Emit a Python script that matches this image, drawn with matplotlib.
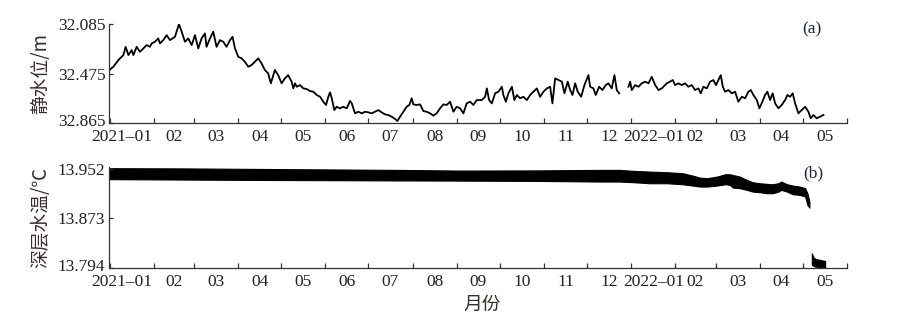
import datetime as dt
import matplotlib
matplotlib.use("Agg")
import matplotlib.pyplot as plt
import matplotlib.dates as mdates
import matplotlib.transforms as mtransforms
from matplotlib.ticker import FixedLocator, NullFormatter, FixedFormatter

# ---------------- data ----------------
# static water level (m), segment before the December gap (days since 2021-01-01)
wl_days_a = [0, 2.7, 6.2, 8.5, 9.7, 11.3, 13.2, 15.5, 16.7, 19.0, 21.3, 23.7, 26.0, 28.3, 29.5,
             31.8, 34.1, 35.3, 37.6, 40.0, 42.3, 45.8, 48.6, 50.5, 52.8, 55.1, 57.5, 59.8, 62.1,
             64.4, 66.8, 67.9, 70.3, 72.6, 74.9, 77.3, 79.6, 81.9, 84.3, 86.1, 87.8, 90.1, 92.4,
             94.7, 97.1, 99.4, 101.7, 104.1, 106.4, 108.7, 111.0, 112.9, 115.7, 118.0, 120.4,
             122.7, 125.0, 127.4, 128.6, 129.8, 131.0, 133.3, 135.6, 138.0, 140.3, 142.6, 145.0,
             147.3, 149.6, 151.5, 153.1, 154.3, 155.5, 157.3, 158.9, 161.3, 163.6, 166.0, 168.3,
             169.5, 171.8, 174.1, 176.5, 178.8, 181.1, 183.5, 185.8, 188.1, 190.4, 192.8, 195.1,
             197.4, 199.8, 201.4, 203.3, 205.6, 207.9, 209.8, 211.4, 212.6, 214.9, 217.3, 219.6,
             221.9, 224.3, 226.6, 228.9, 231.3, 233.6, 235.9, 238.3, 240.6, 242.9, 245.3, 247.6,
             249.9, 252.3, 254.6, 256.9, 260.5, 262.8, 264.0, 265.6, 267.5, 269.8, 272.1, 274.5,
             275.6, 277.3, 279.1, 281.5, 283.3, 285.0, 287.3, 289.6, 292.0, 294.3, 296.6, 299.0,
             301.3, 303.6, 306.0, 308.3, 309.9, 311.8, 314.1, 316.5, 318.3, 320.6, 322.3, 323.9,
             325.8, 327.6, 330.0, 332.3, 335.1, 336.3, 338.6, 340.2, 342.6, 344.9, 347.2, 349.1,
             351.4, 353.3, 354.9, 356.6]
wl_vals_a = [32.447, 32.421, 32.369, 32.343, 32.329, 32.264, 32.329, 32.290, 32.329, 32.264,
             32.303, 32.277, 32.250, 32.264, 32.237, 32.224, 32.198, 32.237, 32.211, 32.172,
             32.211, 32.185, 32.085, 32.145, 32.224, 32.198, 32.250, 32.172, 32.277, 32.198,
             32.158, 32.264, 32.198, 32.145, 32.264, 32.211, 32.224, 32.264, 32.211, 32.185,
             32.277, 32.343, 32.355, 32.382, 32.421, 32.408, 32.382, 32.355, 32.395, 32.447,
             32.473, 32.552, 32.447, 32.487, 32.552, 32.513, 32.487, 32.539, 32.592, 32.552,
             32.579, 32.566, 32.592, 32.597, 32.613, 32.618, 32.644, 32.658, 32.697, 32.723,
             32.658, 32.623, 32.670, 32.763, 32.737, 32.749, 32.737, 32.749, 32.691, 32.710,
             32.789, 32.776, 32.789, 32.776, 32.781, 32.789, 32.776, 32.763, 32.781, 32.797,
             32.802, 32.815, 32.833, 32.849, 32.815, 32.776, 32.737, 32.723, 32.670, 32.718,
             32.723, 32.718, 32.771, 32.776, 32.789, 32.807, 32.789, 32.749, 32.718, 32.723,
             32.697, 32.776, 32.737, 32.749, 32.789, 32.710, 32.697, 32.723, 32.684, 32.684,
             32.658, 32.592, 32.684, 32.710, 32.631, 32.618, 32.579, 32.644, 32.697, 32.631,
             32.579, 32.684, 32.644, 32.670, 32.658, 32.684, 32.644, 32.618, 32.592, 32.658,
             32.618, 32.592, 32.579, 32.710, 32.513, 32.526, 32.539, 32.631, 32.539, 32.605,
             32.644, 32.552, 32.618, 32.658, 32.566, 32.487, 32.579, 32.592, 32.644, 32.579,
             32.605, 32.566, 32.552, 32.592, 32.487, 32.605, 32.631]

# static water level (m), segment after the gap
wl_days_b = [363.1, 364.3, 365.4, 367.8, 370.1, 372.4, 374.8, 377.1, 379.4, 381.8, 384.1, 386.4,
             389.9, 392.2, 394.1, 395.7, 398.0, 400.4, 402.7, 405.0, 407.4, 409.7, 412.0, 413.7,
             415.5, 417.9, 420.2, 422.5, 424.4, 426.0, 427.7, 429.1, 430.7, 433.0, 435.4, 437.7,
             440.0, 442.4, 444.7, 447.0, 448.7, 450.5, 452.9, 454.7, 456.3, 458.7, 460.3, 462.2,
             464.0, 465.7, 468.0, 470.3, 472.7, 474.3, 476.2, 478.0, 479.7, 482.0, 484.3, 486.7,
             489.0, 490.6, 492.5, 494.8, 497.2, 499.5]
wl_vals_b = [32.579, 32.539, 32.605, 32.566, 32.579, 32.552, 32.539, 32.552, 32.500, 32.566,
             32.605, 32.592, 32.552, 32.539, 32.526, 32.566, 32.552, 32.566, 32.552, 32.579,
             32.566, 32.605, 32.592, 32.631, 32.579, 32.592, 32.539, 32.526, 32.566, 32.526,
             32.487, 32.579, 32.618, 32.605, 32.631, 32.618, 32.697, 32.658, 32.670, 32.618,
             32.605, 32.644, 32.684, 32.749, 32.710, 32.644, 32.618, 32.684, 32.631, 32.710,
             32.749, 32.723, 32.684, 32.644, 32.658, 32.631, 32.710, 32.789, 32.763, 32.737,
             32.776, 32.828, 32.802, 32.828, 32.815, 32.802]

# deep water temperature (deg C): envelope of the dense record
t_days_a = [0, 50, 100, 150, 200, 245, 300, 343, 357, 367, 378, 390, 401, 408, 413, 418, 425,
            431, 434, 436, 441, 446, 450, 455, 460, 464, 468, 470, 474, 478, 483, 486.7, 488.3,
            489.7]
t_hi_a = [13.9531, 13.9528, 13.9520, 13.9512, 13.9504, 13.9493, 13.9496, 13.9504, 13.9504,
          13.9488, 13.9477, 13.9467, 13.9451, 13.9413, 13.9381, 13.9371, 13.9397, 13.9435,
          13.9435, 13.9424, 13.9397, 13.9344, 13.9307, 13.9291, 13.9281, 13.9275, 13.9291,
          13.9318, 13.9275, 13.9254, 13.9238, 13.9212, 13.9132, 13.8998]
t_lo_a = [13.9356, 13.9350, 13.9344, 13.9340, 13.9336, 13.9333, 13.9328, 13.9318, 13.9318,
          13.9307, 13.9291, 13.9291, 13.9275, 13.9254, 13.9238, 13.9238, 13.9254, 13.9275,
          13.9265, 13.9222, 13.9212, 13.9185, 13.9158, 13.9148, 13.9132, 13.9132, 13.9158,
          13.9185, 13.9158, 13.9116, 13.9105, 13.9079, 13.8945, 13.8903]
t_days_b = [491.4, 492.5, 494.0, 497.0, 500.7]
t_hi_b = [13.8174, 13.8110, 13.8084, 13.8070, 13.8052]
t_lo_b = [13.7990, 13.7975, 13.7961, 13.7955, 13.7945]

month_labels = ["2021\u201301", "02", "03", "04", "05", "06", "07", "08", "09", "10", "11", "12",
                "2022\u201301", "02", "03", "04", "05"]
wl_ticks = [32.085, 32.475, 32.865]
t_ticks = [13.794, 13.873, 13.952]

# ---------------- helpers ----------------
def to_dates(days):
    return [mdates.date2num(dt.datetime(2021, 1, 1) + dt.timedelta(days=d)) for d in days]

month_starts = []
y, m = 2021, 1
for _ in range(18):
    month_starts.append(mdates.date2num(dt.datetime(y, m, 1)))
    m += 1
    if m > 12:
        m, y = 1, y + 1
label_pos = [month_starts[i] + (month_starts[i + 1] - month_starts[i]) / 2 for i in range(17)]
label_pos[0] -= 7  # first label sits slightly left in the original

serif = "Liberation Serif"
cjk = ["Noto Sans CJK SC", "DejaVu Sans"]
tick_color = "#222222"
label_color = "#3a2c2c"
fs = 12.5

fig = plt.figure(figsize=(9.2, 3.15), dpi=100)
W, H = 920.0, 315.0
x0, x1 = 109.5, 847.0
ax1 = fig.add_axes([x0 / W, 1 - 123 / H, (x1 - x0) / W, (123 - 23.5) / H])
ax2 = fig.add_axes([x0 / W, 1 - 268 / H, (x1 - x0) / W, (268 - 167.0) / H])

ax1.plot(to_dates(wl_days_a), wl_vals_a, color="black", lw=1.3)
ax1.plot(to_dates(wl_days_b), wl_vals_b, color="black", lw=1.3)
ax1.set_ylim(32.865, 32.08)

ax2.fill_between(to_dates(t_days_a), t_lo_a, t_hi_a, color="black", lw=0.8, edgecolor="black")
ax2.fill_between(to_dates(t_days_b), t_lo_b, t_hi_b, color="black", lw=0.8, edgecolor="black")
ax2.set_ylim(13.794, 13.955)

up_shift = mtransforms.ScaledTranslation(0, 3 / 100.0, fig.dpi_scale_trans)

for ax, yt, ylab in [(ax1, wl_ticks, "静水位/m"), (ax2, t_ticks, "深层水温/℃")]:
    ax.set_xlim(month_starts[0], month_starts[17])
    ax.xaxis.set_major_locator(FixedLocator(month_starts))
    ax.xaxis.set_major_formatter(NullFormatter())
    ax.xaxis.set_minor_locator(FixedLocator(label_pos))
    ax.xaxis.set_minor_formatter(FixedFormatter(month_labels))
    ax.tick_params(axis="x", which="major", direction="in", length=3.5, width=0.9,
                   color="#333333")
    ax.tick_params(axis="x", which="minor", length=0, pad=4.5, labelsize=fs,
                   labelcolor=tick_color)
    ax.set_yticks(yt)
    ax.set_yticklabels([f"{v:.3f}" for v in yt])
    ax.tick_params(axis="y", direction="in", length=3, width=0.9, pad=3, labelsize=fs,
                   labelcolor=tick_color, color="#333333")
    for lab in ax.get_xticklabels(minor=True) + ax.get_yticklabels():
        lab.set_fontfamily(serif)
    for s in ["top", "right"]:
        ax.spines[s].set_visible(False)
    for s in ["left", "bottom"]:
        ax.spines[s].set_linewidth(0.9)
        ax.spines[s].set_color("#333333")
    ax.set_ylabel(ylab, fontsize=13.5, family=cjk, color=label_color)
    ax.yaxis.set_label_coords(-0.079, 0.5)
    ax.set_facecolor("none")

# nudge the lowest y tick label up a little, as in the original
for ax in (ax1, ax2):
    low_tick = ax.yaxis.get_major_ticks()[0] if ax is ax2 else ax.yaxis.get_major_ticks()[2]
    low_tick.label1.set_transform(low_tick.label1.get_transform() + up_shift)

fig.text(812 / W, 1 - 29 / H, "(a)", ha="center", va="center", fontsize=fs,
         family=serif, color="#1c2340")
fig.text(813 / W, 1 - 173 / H, "(b)", ha="center", va="center", fontsize=fs,
         family=serif, color="#1c2340")
fig.text(482 / W, 1 - 304 / H, "月份", ha="center", va="center", fontsize=13.5,
         family=cjk, color=label_color)

fig.savefig("out.png", dpi=100)
